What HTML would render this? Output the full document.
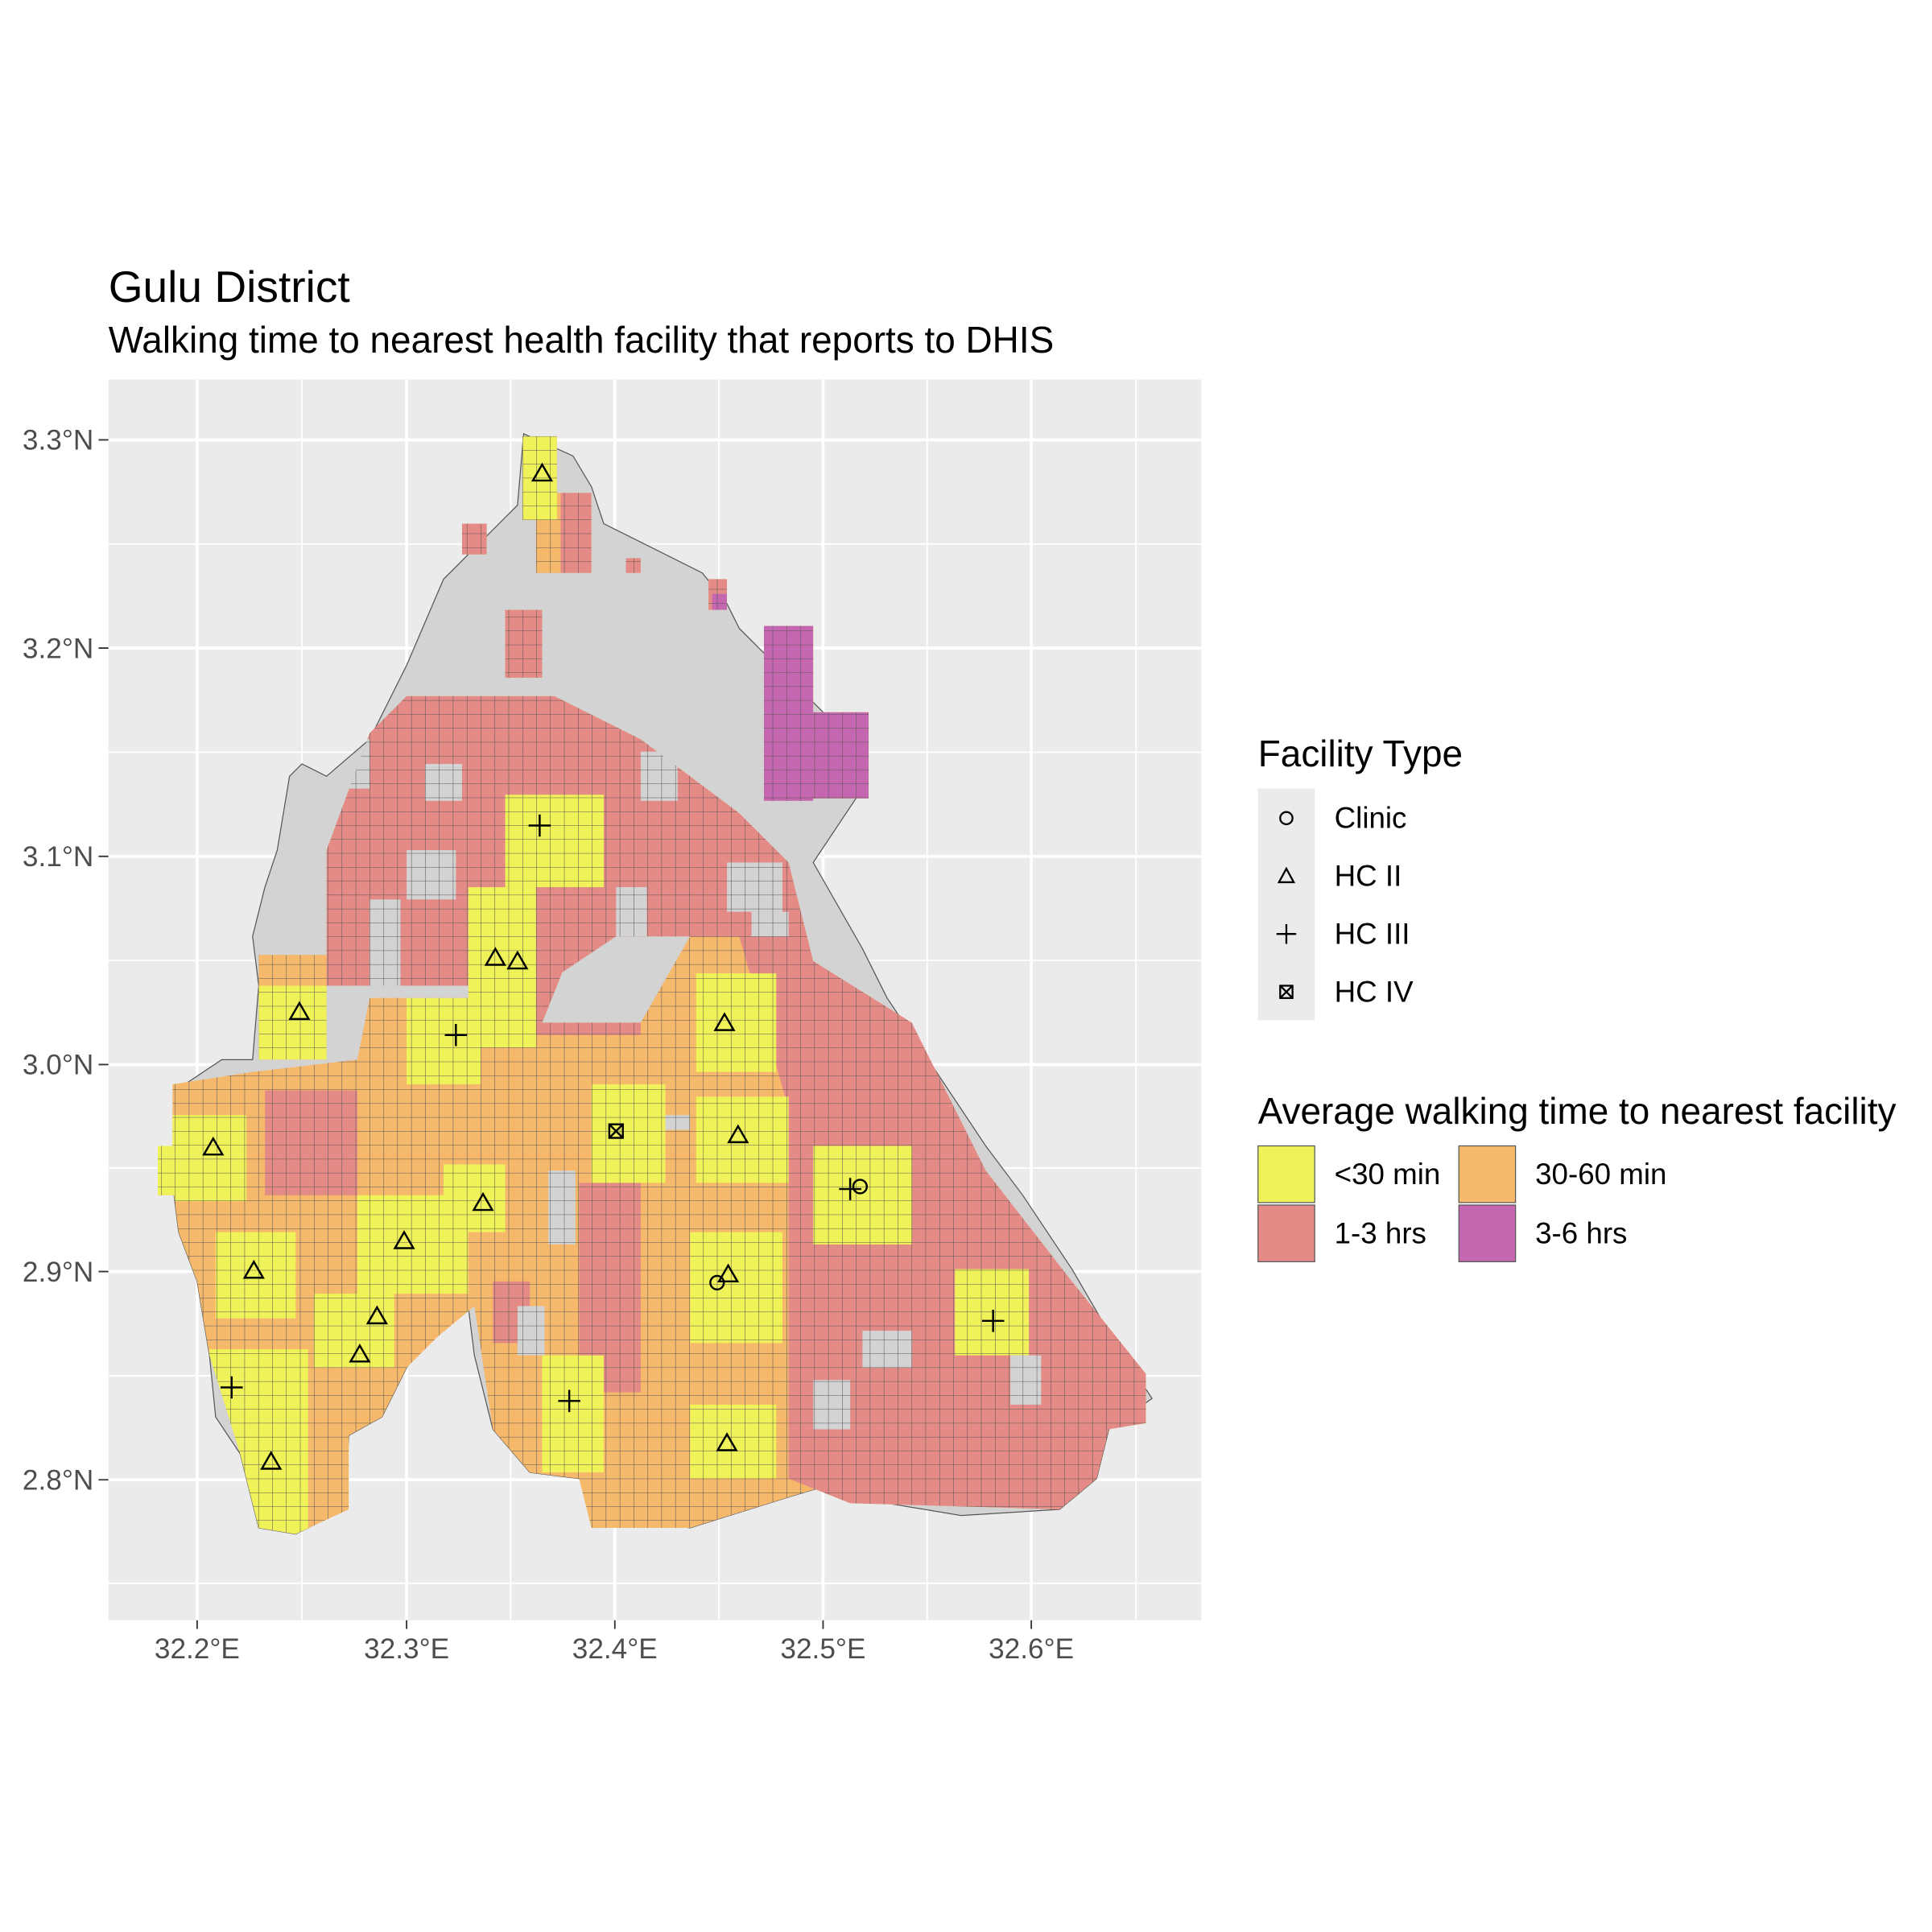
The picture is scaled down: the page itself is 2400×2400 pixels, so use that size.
<!DOCTYPE html>
<html><head><meta charset="utf-8"><style>html,body{margin:0;padding:0;background:#fff}svg{display:block}</style></head>
<body>
<svg width="2400" height="2400" viewBox="0 0 1568 1568" xmlns="http://www.w3.org/2000/svg" font-family="Liberation Sans, Arial, sans-serif">
<defs>
<pattern id="g" patternUnits="userSpaceOnUse" x="424" y="354" width="11.28" height="11.28">
<path d="M0 0H11.28M0 0V11.28" stroke="#555" stroke-width="0.7" fill="none"/>
</pattern>
<clipPath id="cl">
<path id="redp" d="M265,690 L300,595 L330,565 L450,565 L520,600 L600,660 L640,700 L660,780 L740,830 L800,950 L870,1040 L930,1115 L930,1155 L900,1160 L890,1200 L860,1225 L690,1220 L640,1200 L640,900 L600,760 L500,760 L440,800 L300,800 L265,800Z"/>
<path d="M140,880 L205,870 L290,860 L300,810 L380,810 L380,720 L400,700 L430,700 L440,650 L480,640 L510,720 L500,760 L460,780 L440,830 L520,830 L560,760 L650,760 L650,860 L640,940 L650,1000 L640,1060 L690,1030 L760,1020 L840,1040 L850,1110 L800,1130 L700,1140 L690,1200 L640,1215 L560,1240 L480,1240 L470,1200 L430,1195 L400,1160 L385,1060 L355,1085 L330,1110 L310,1150 L283,1165 L283,1225 L240,1245 L210,1240 L195,1180 L170,1100 L160,1040 L145,1000 L140,960Z"/>
<rect x="424" y="354" width="28" height="68"/>
<rect x="375" y="425" width="20" height="25"/><rect x="410" y="495" width="30" height="55"/><rect x="435" y="400" width="45" height="65"/>
<rect x="508" y="453" width="12" height="12"/><rect x="575" y="470" width="15" height="25"/>
<rect x="620" y="508" width="40" height="142"/><rect x="660" y="578" width="45" height="70"/>
<rect x="210" y="775" width="55" height="85"/><rect x="128" y="930" width="20" height="40"/>
</clipPath>
</defs>
<rect width="1568" height="1568" fill="#fff"/>
<text x="88" y="245" font-size="36">Gulu District</text>
<text x="88" y="286" font-size="30">Walking time to nearest health facility that reports to DHIS</text>
<rect x="88" y="308" width="887" height="1007" fill="#ebebeb"/>
<g stroke="#fff" stroke-width="1.2">
<path d="M88 441.5H975M88 610.5H975M88 779.5H975M88 948H975M88 1116.5H975M88 1285H975M245 308V1315M414.5 308V1315M583.5 308V1315M752.5 308V1315M922 308V1315"/>
</g>
<g stroke="#fff" stroke-width="2.4">
<path d="M88 357H975M88 526H975M88 695H975M88 864H975M88 1032H975M88 1201H975M160 308V1315M330 308V1315M499 308V1315M668 308V1315M837 308V1315"/>
</g>
<path d="M425,352 L465,370 L480,395 L490,425 L520,440 L570,465 L590,490 L600,510 L620,530 L690,600 L700,640 L660,700 L700,770 L720,810 L760,870 L800,930 L830,970 L870,1030 L905,1090 L935,1135 L900,1160 L890,1200 L860,1225 L780,1230 L720,1220 L690,1200 L640,1215 L560,1240 L500,1230 L470,1200 L430,1195 L400,1160 L385,1100 L380,1060 L355,1075 L330,1110 L310,1150 L283,1165 L280,1225 L240,1245 L210,1240 L195,1180 L175,1150 L170,1100 L160,1040 L145,1000 L140,960 L150,880 L180,860 L205,860 L210,800 L205,760 L215,720 L225,690 L235,630 L245,620 L265,630 L300,600 L330,540 L360,470 L380,450 L420,410Z" fill="#d3d3d3" stroke="#555" stroke-width="0.8"/>
<g clip-path="url(#cl)">
<rect x="0" y="0" width="1568" height="1568" fill="#f6b86b"/>
<use href="#redp" fill="#e48b87"/>
<g fill="#e48b87">
<rect x="375" y="425" width="20" height="25"/><rect x="410" y="495" width="30" height="55"/><rect x="455" y="400" width="25" height="65"/>
<rect x="508" y="453" width="12" height="12"/><rect x="575" y="470" width="15" height="25"/>
<rect x="215" y="885" width="75" height="85"/><rect x="470" y="960" width="50" height="170"/>
<rect x="430" y="780" width="90" height="60"/><rect x="400" y="1040" width="30" height="50"/>
</g>
<g fill="#c466b0"><rect x="620" y="508" width="40" height="142"/><rect x="660" y="578" width="45" height="70"/><rect x="578" y="482" width="12" height="13"/></g>
<g fill="#f0f25a">
<rect x="424" y="354" width="28" height="68"/>
<rect x="410" y="645" width="80" height="75"/><rect x="380" y="720" width="55" height="130"/>
<rect x="210" y="800" width="55" height="60"/><rect x="330" y="810" width="60" height="70"/>
<rect x="128" y="905" width="72" height="70"/><rect x="480" y="880" width="60" height="80"/>
<rect x="565" y="790" width="65" height="80"/><rect x="565" y="890" width="75" height="70"/>
<rect x="660" y="930" width="80" height="80"/><rect x="560" y="1000" width="75" height="90"/>
<rect x="775" y="1030" width="60" height="70"/><rect x="290" y="970" width="90" height="80"/>
<rect x="360" y="945" width="50" height="55"/><rect x="175" y="1000" width="65" height="70"/>
<rect x="255" y="1050" width="65" height="60"/><rect x="170" y="1095" width="80" height="155"/>
<rect x="440" y="1100" width="50" height="95"/><rect x="560" y="1140" width="70" height="60"/>
</g>
<g fill="#d3d3d3">
<rect x="445" y="950" width="22" height="60"/><rect x="540" y="905" width="20" height="12"/>
<rect x="590" y="700" width="45" height="40"/><rect x="330" y="690" width="40" height="40"/>
<rect x="700" y="1080" width="40" height="30"/><rect x="820" y="1100" width="25" height="40"/>
<rect x="660" y="1120" width="30" height="40"/><rect x="420" y="1060" width="22" height="40"/>
<rect x="265" y="600" width="35" height="40"/><rect x="300" y="730" width="25" height="70"/>
<rect x="345" y="620" width="30" height="30"/><rect x="520" y="610" width="30" height="40"/>
<rect x="500" y="720" width="25" height="40"/><rect x="610" y="740" width="30" height="20"/>
</g>
<rect x="0" y="0" width="1568" height="1568" fill="url(#g)"/>
</g>
<g fill="none" stroke="#000" stroke-width="1.6">
<path d="M440,377l7.5,13h-15z"/><path d="M402,770l7.5,13h-15z"/><path d="M420,773l7.5,13h-15z"/><path d="M243,814l7.5,13h-15z"/>
<path d="M588,823l7.5,13h-15z"/><path d="M173,924l7.5,13h-15z"/><path d="M599,914l7.5,13h-15z"/><path d="M392,969l7.5,13h-15z"/>
<path d="M328,1000l7.5,13h-15z"/><path d="M206,1024l7.5,13h-15z"/><path d="M591,1027l7.5,13h-15z"/><path d="M306,1061l7.5,13h-15z"/>
<path d="M292,1092l7.5,13h-15z"/><path d="M220,1179l7.5,13h-15z"/><path d="M590,1164l7.5,13h-15z"/>
<path d="M429,670h18M438,661v18M361,840h18M370,831v18M681,965h18M690,956v18M797,1072h18M806,1063v18M179,1126h18M188,1117v18M453,1137h18M462,1128v18"/>
<circle cx="698" cy="963" r="5.5"/><circle cx="582" cy="1041" r="5.5"/>
<rect x="494.5" y="912.5" width="11" height="11"/><path d="M494.5,912.5l11,11M505.5,912.5l-11,11"/>
</g>
<g fill="#4d4d4d" font-size="23">
<text x="160" y="1346" text-anchor="middle">32.2°E</text><text x="330" y="1346" text-anchor="middle">32.3°E</text>
<text x="499" y="1346" text-anchor="middle">32.4°E</text><text x="668" y="1346" text-anchor="middle">32.5°E</text>
<text x="837" y="1346" text-anchor="middle">32.6°E</text>
<text x="76" y="365" text-anchor="end">3.3°N</text><text x="76" y="534" text-anchor="end">3.2°N</text>
<text x="76" y="703" text-anchor="end">3.1°N</text><text x="76" y="872" text-anchor="end">3.0°N</text>
<text x="76" y="1040" text-anchor="end">2.9°N</text><text x="76" y="1209" text-anchor="end">2.8°N</text>
</g>
<path d="M80 357h8M80 526h8M80 695h8M80 864h8M80 1032h8M80 1201h8M160 1315v7M330 1315v7M499 1315v7M668 1315v7M837 1315v7" stroke="#333" stroke-width="1.2"/>
<text x="1021" y="622" font-size="30">Facility Type</text>
<rect x="1021" y="640" width="46" height="188" fill="#ebebeb"/>
<g fill="none" stroke="#000" stroke-width="1.5">
<circle cx="1044" cy="664" r="5"/><path d="M1044,705l6,11h-12z"/><path d="M1036,758h16M1044,750v16"/>
<rect x="1039" y="800" width="10" height="10"/><path d="M1039,800l10,10M1049,800l-10,10"/>
</g>
<g font-size="24"><text x="1083" y="672">Clinic</text><text x="1083" y="719">HC II</text><text x="1083" y="766">HC III</text><text x="1083" y="813">HC IV</text></g>
<text x="1021" y="912" font-size="30">Average walking time to nearest facility</text>
<g stroke="#555" stroke-width="0.8">
<rect x="1021" y="930" width="46" height="46" fill="#f0f25a"/><rect x="1184" y="930" width="46" height="46" fill="#f6b86b"/>
<rect x="1021" y="978" width="46" height="46" fill="#e48b87"/><rect x="1184" y="978" width="46" height="46" fill="#c466b0"/>
</g>
<g font-size="24"><text x="1083" y="961">&lt;30 min</text><text x="1246" y="961">30-60 min</text><text x="1083" y="1009">1-3 hrs</text><text x="1246" y="1009">3-6 hrs</text></g>
</svg>
</body></html>
